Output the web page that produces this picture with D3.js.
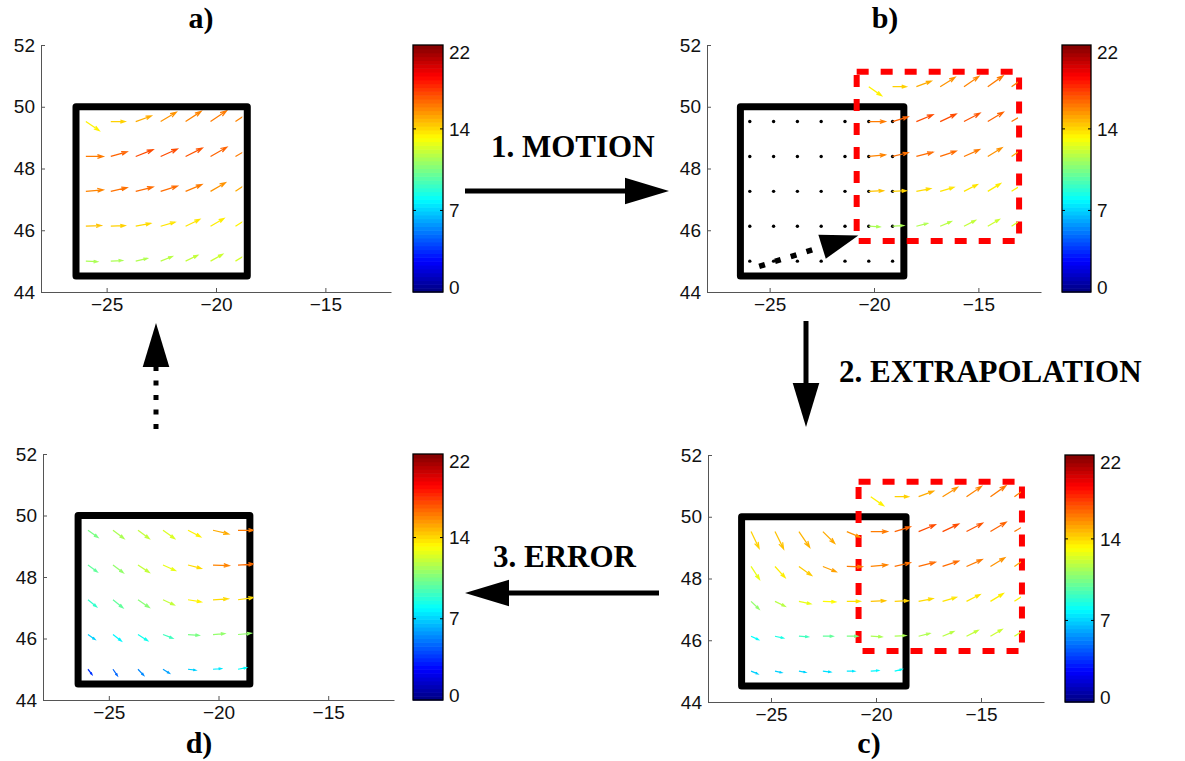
<!DOCTYPE html>
<html>
<head>
<meta charset="utf-8">
<script src="https://cdn.jsdelivr.net/npm/d3@7"></script>
<style>
body { margin: 0; background: #fff; }
</style>
</head>
<body>
<svg id="fig" width="1185" height="761"></svg>
<script>
// analysis grid: 5 rows (north -> south), 7 columns (west -> east)
const gridLon = [-25.95, -24.81, -23.67, -22.53, -21.39, -20.25, -19.11];
const gridLat = [49.52, 48.39, 47.26, 46.13, 45.0];
const boxLon = [-26.4, -18.57];
const boxLat = [44.52, 50.0];
const redBoxLon = [-20.83, -13.05];
const redBoxLat = [45.65, 51.13];
const shift = [5.7, 1.13];          // displacement of the field (step 1)
const motionFrom = [-25.5, 44.83];
const motionTo = [-20.75, 45.83];
const lonDomain = [-28, -12];
const latDomain = [44, 52];
const lonTicks = [-25, -20, -15];
const latTicks = [44, 46, 48, 50, 52];
const speedMax = 21.2;
const cbTicks = [0, 7, 14, 21.2];
const cbLabels = ["0", "7", "14", "22"];

// a) observed field (u east, v north, in degrees) and speed
const uA = [
  [0.61, 0.65, 0.71, 0.71, 0.71, 0.73, 0.73],
  [0.79, 0.74, 0.79, 0.76, 0.76, 0.74, 0.74],
  [0.79, 0.74, 0.79, 0.76, 0.74, 0.68, 0.68],
  [0.70, 0.65, 0.68, 0.65, 0.64, 0.61, 0.61],
  [0.53, 0.53, 0.53, 0.53, 0.55, 0.55, 0.55]];
const vA = [
  [-0.29, 0.00, 0.18, 0.30, 0.33, 0.35, 0.35],
  [0.00, 0.15, 0.22, 0.24, 0.27, 0.30, 0.30],
  [0.05, 0.12, 0.14, 0.17, 0.22, 0.28, 0.32],
  [0.02, 0.02, 0.09, 0.13, 0.22, 0.25, 0.27],
  [-0.02, 0.02, 0.09, 0.15, 0.19, 0.22, 0.24]];
const sA = [
  [13.5, 14.2, 15.0, 15.5, 15.8, 16.0, 15.8],
  [16.0, 16.5, 17.0, 17.0, 16.8, 16.5, 16.0],
  [15.8, 16.2, 16.3, 16.3, 16.0, 15.5, 15.0],
  [14.5, 14.2, 14.0, 13.8, 13.8, 13.6, 13.5],
  [11.5, 11.5, 11.6, 11.8, 12.0, 12.2, 12.4]];

// c) extrapolated field inside the old box (null = covered by moved box)
const uC = [
  [0.38, 0.41, 0.51, 0.56, 0.63, null, null],
  [0.40, 0.48, 0.60, 0.63, 0.73, null, null],
  [0.38, 0.48, 0.56, 0.60, 0.63, null, null],
  [0.35, 0.40, 0.44, 0.48, 0.52, null, null],
  [0.32, 0.32, 0.32, 0.37, 0.37, 0.37, 0.35]];
const vC = [
  [-0.54, -0.56, -0.51, -0.38, -0.18, null, null],
  [-0.42, -0.36, -0.29, -0.17, -0.01, null, null],
  [-0.25, -0.16, -0.08, -0.02, 0.00, null, null],
  [-0.11, -0.06, -0.02, 0.00, 0.00, null, null],
  [-0.09, -0.05, -0.04, -0.03, 0.00, 0.02, 0.06]];
const sC = [
  [14.2, 14.5, 14.8, 15.0, 15.5, null, null],
  [12.8, 13.6, 14.3, 15.2, 16.0, null, null],
  [11.0, 11.8, 12.8, 13.3, 13.8, null, null],
  [8.0, 8.5, 9.3, 10.0, 10.5, null, null],
  [7.0, 7.0, 7.1, 7.3, 7.5, 7.8, 8.0]];

// d) error field
const uD = [
  [0.45, 0.50, 0.51, 0.53, 0.57, 0.71, 0.71],
  [0.42, 0.47, 0.51, 0.56, 0.60, 0.73, 0.71],
  [0.39, 0.45, 0.51, 0.51, 0.60, 0.69, 0.71],
  [0.32, 0.38, 0.44, 0.44, 0.50, 0.53, 0.60],
  [0.18, 0.20, 0.26, 0.29, 0.35, 0.38, 0.38]];
const vD = [
  [-0.23, -0.27, -0.27, -0.27, -0.21, -0.12, 0.00],
  [-0.22, -0.25, -0.24, -0.18, -0.11, -0.02, 0.03],
  [-0.23, -0.26, -0.25, -0.17, -0.07, 0.03, 0.07],
  [-0.16, -0.21, -0.20, -0.12, -0.03, 0.03, 0.04],
  [-0.17, -0.21, -0.20, -0.13, -0.03, 0.02, 0.05]];
const sD = [
  [10.5, 11.5, 12.0, 12.5, 13.5, 15.0, 16.0],
  [10.0, 11.0, 12.0, 12.8, 14.0, 15.8, 16.3],
  [9.0, 10.0, 10.8, 12.0, 13.5, 14.0, 14.0],
  [7.0, 7.8, 8.3, 9.3, 10.5, 11.0, 11.0],
  [3.7, 4.8, 5.5, 6.0, 7.0, 7.5, 8.0]];

const SANS = "'Liberation Sans', Arial, Helvetica, sans-serif";
const SERIF = "'Liberation Serif', 'Times New Roman', serif";

const svg = d3.select("#fig");
svg.append("rect").attr("width", 1185).attr("height", 761).attr("fill", "#fff");
const defs = svg.append("defs");

// matlab jet colormap
function jet(t) {
  const c = v => Math.max(0, Math.min(1, v));
  return d3.rgb(255 * c(1.5 - Math.abs(4 * t - 3)),
                255 * c(1.5 - Math.abs(4 * t - 2)),
                255 * c(1.5 - Math.abs(4 * t - 1)));
}
const color = s => jet(s / speedMax);

// quiver style arrow: shaft + two barbs
function arrowPath(x0, y0, x1, y1) {
  const du = x1 - x0, dv = y1 - y0;
  const a = 0.33, b = 0.33;
  const l1 = [x1 - a * (du + b * dv), y1 - a * (dv - b * du)];
  const l2 = [x1 - a * (du - b * dv), y1 - a * (dv + b * du)];
  return `M${x0},${y0}L${x1},${y1}M${l1[0]},${l1[1]}L${x1},${y1}L${l2[0]},${l2[1]}`;
}

const panels = [
  {id: "a", plot: [41, 391, 45, 292], cb: [413, 443], title: [201, 28]},
  {id: "b", plot: [707, 1041, 45, 292], cb: [1062, 1091], title: [885, 28]},
  {id: "c", plot: [708, 1044, 455, 702], cb: [1065, 1094], title: [869, 753]},
  {id: "d", plot: [43, 394, 454, 700], cb: [413, 443], title: [199, 753]}
];

function drawField(g, x, y, U, V, S, dLon, dLat, clipLon, id) {
  const cells = [];
  U.forEach((row, i) => row.forEach((u, j) => {
    if (u === null) return;
    cells.push({lon: gridLon[j] + dLon, lat: gridLat[i] + dLat, u: u, v: V[i][j], s: S[i][j]});
  }));
  defs.append("clipPath").attr("id", id)
    .append("rect")
    .attr("x", x.range()[0]).attr("y", y.range()[1])
    .attr("width", x(clipLon) - x.range()[0])
    .attr("height", y.range()[0] - y.range()[1]);
  g.append("g").attr("clip-path", `url(#${id})`)
    .selectAll("path").data(cells).join("path")
    .attr("d", d => arrowPath(x(d.lon), y(d.lat), x(d.lon + d.u), y(d.lat + d.v)))
    .attr("fill", "none")
    .attr("stroke", d => color(d.s))
    .attr("stroke-width", 1.25);
}

function drawBox(g, x, y, lon, lat, stroke, width, dash) {
  g.append("rect")
    .attr("x", x(lon[0])).attr("y", y(lat[1]))
    .attr("width", x(lon[1]) - x(lon[0]))
    .attr("height", y(lat[0]) - y(lat[1]))
    .attr("fill", "none")
    .attr("stroke", stroke)
    .attr("stroke-width", width)
    .attr("stroke-linejoin", "round")
    .attr("stroke-dasharray", dash);
}

function drawColorbar(g, cbx, y0, y1) {
  const cb = d3.scaleLinear().domain([0, speedMax]).range([y1, y0]);
  const bands = d3.range(64);
  g.selectAll("rect.band").data(bands).join("rect")
    .attr("class", "band")
    .attr("x", cbx[0]).attr("width", cbx[1] - cbx[0])
    .attr("y", k => cb((k + 1) * speedMax / 64))
    .attr("height", k => cb(k * speedMax / 64) - cb((k + 1) * speedMax / 64) + 0.6)
    .attr("fill", k => jet((k + 0.5) / 64));
  g.append("rect")
    .attr("x", cbx[0]).attr("y", y0)
    .attr("width", cbx[1] - cbx[0]).attr("height", y1 - y0)
    .attr("fill", "none").attr("stroke", "#000").attr("stroke-width", 1.3);
  cbTicks.forEach((t, i) => {
    const ty = cb(t);
    if (t > 0 && t < speedMax) {
      g.append("line").attr("x1", cbx[0]).attr("x2", cbx[0] + 3).attr("y1", ty).attr("y2", ty)
        .attr("stroke", "#000");
      g.append("line").attr("x1", cbx[1] - 3).attr("x2", cbx[1]).attr("y1", ty).attr("y2", ty)
        .attr("stroke", "#000");
    }
    g.append("text")
      .attr("x", cbx[1] + 6)
      .attr("y", Math.min(Math.max(ty, y0 + 7), y1 - 5))
      .attr("dy", "0.35em")
      .attr("font-family", SANS).attr("font-size", 19).attr("fill", "#111")
      .text(cbLabels[i]);
  });
}

panels.forEach(p => {
  const [x0, x1, y0, y1] = p.plot;
  const x = d3.scaleLinear().domain(lonDomain).range([x0, x1]);
  const y = d3.scaleLinear().domain(latDomain).range([y1, y0]);
  const g = svg.append("g").attr("id", "panel-" + p.id);

  const xa = g.append("g").attr("transform", `translate(0,${y1})`)
    .call(d3.axisBottom(x).tickValues(lonTicks).tickSize(-4).tickSizeOuter(0).tickPadding(6));
  const ya = g.append("g").attr("transform", `translate(${x0},0)`)
    .call(d3.axisLeft(y).tickValues(latTicks).tickSize(-4).tickSizeOuter(0).tickPadding(6));
  [xa, ya].forEach(a => {
    a.attr("font-family", SANS).attr("font-size", 19);
    a.selectAll("path, line").attr("stroke", "#555");
    a.selectAll("text").attr("fill", "#111");
  });

  if (p.id === "a") {
    drawField(g, x, y, uA, vA, sA, 0, 0, -18.8, "clipA");
    drawBox(g, x, y, boxLon, boxLat, "#000", 7, null);
  }
  if (p.id === "b") {
    drawBox(g, x, y, boxLon, boxLat, "#000", 7, null);
    const dots = [];
    gridLat.forEach(la => gridLon.forEach(lo => dots.push([lo, la])));
    g.append("g").selectAll("circle").data(dots).join("circle")
      .attr("cx", d => x(d[0])).attr("cy", d => y(d[1])).attr("r", 1.7).attr("fill", "#000");
    // motion vector
    const s0 = [x(motionFrom[0]), y(motionFrom[1])];
    const s1 = [x(motionTo[0]), y(motionTo[1])];
    const len = Math.hypot(s1[0] - s0[0], s1[1] - s0[1]);
    const ux = (s1[0] - s0[0]) / len, uy = (s1[1] - s0[1]) / len;
    const hl = 38, hw = 12.5;
    const base = [s1[0] - hl * ux, s1[1] - hl * uy];
    g.append("line")
      .attr("x1", s0[0]).attr("y1", s0[1]).attr("x2", base[0]).attr("y2", base[1])
      .attr("stroke", "#000").attr("stroke-width", 5.5).attr("stroke-dasharray", "6,10.5");
    g.append("path")
      .attr("d", `M${s1[0]},${s1[1]}L${base[0] - hw * uy},${base[1] + hw * ux}L${base[0] + hw * uy},${base[1] - hw * ux}Z`)
      .attr("fill", "#000");
    drawBox(g, x, y, redBoxLon, redBoxLat, "#f00", 6, "12,12");
    drawField(g, x, y, uA, vA, sA, shift[0], shift[1], -18.8 + shift[0], "clipB");
  }
  if (p.id === "c") {
    drawBox(g, x, y, boxLon, boxLat, "#000", 7, null);
    drawBox(g, x, y, redBoxLon, redBoxLat, "#f00", 6, "12,12");
    drawField(g, x, y, uC, vC, sC, 0, 0, -18.3, "clipC1");
    drawField(g, x, y, uA, vA, sA, shift[0], shift[1], -18.8 + shift[0], "clipC2");
  }
  if (p.id === "d") {
    drawBox(g, x, y, boxLon, boxLat, "#000", 7, null);
    drawField(g, x, y, uD, vD, sD, 0, 0, -18.4, "clipD");
  }

  drawColorbar(g, p.cb, y0, y1);

  g.append("text")
    .attr("x", p.title[0]).attr("y", p.title[1])
    .attr("text-anchor", "middle")
    .attr("font-family", SERIF).attr("font-weight", "bold").attr("font-size", 30)
    .text(p.id + ")");
});

// step arrows between the panels
const steps = [
  {label: "1. MOTION", tx: 491, ty: 157, from: [465, 191], to: [669, 191], dash: null},
  {label: "2. EXTRAPOLATION", tx: 839, ty: 382, from: [806, 321], to: [806, 427], dash: null},
  {label: "3. ERROR", tx: 493, ty: 567, from: [659, 593], to: [465, 593], dash: null},
  {label: "", tx: 0, ty: 0, from: [156, 429], to: [156, 323], dash: "5,9.5"}
];
const ann = svg.append("g");
steps.forEach(s => {
  const len = Math.hypot(s.to[0] - s.from[0], s.to[1] - s.from[1]);
  const ux = (s.to[0] - s.from[0]) / len, uy = (s.to[1] - s.from[1]) / len;
  const hl = 44, hw = 13.3;
  const base = [s.to[0] - hl * ux, s.to[1] - hl * uy];
  ann.append("line")
    .attr("x1", s.from[0]).attr("y1", s.from[1])
    .attr("x2", base[0] + 2 * ux).attr("y2", base[1] + 2 * uy)
    .attr("stroke", "#000").attr("stroke-width", 5)
    .attr("stroke-dasharray", s.dash);
  ann.append("path")
    .attr("d", `M${s.to[0]},${s.to[1]}L${base[0] - hw * uy},${base[1] + hw * ux}L${base[0] + hw * uy},${base[1] - hw * ux}Z`)
    .attr("fill", "#000");
  if (s.label) {
    ann.append("text")
      .attr("x", s.tx).attr("y", s.ty)
      .attr("font-family", SERIF).attr("font-weight", "bold").attr("font-size", 31)
      .text(s.label);
  }
});
</script>
</body>
</html>
